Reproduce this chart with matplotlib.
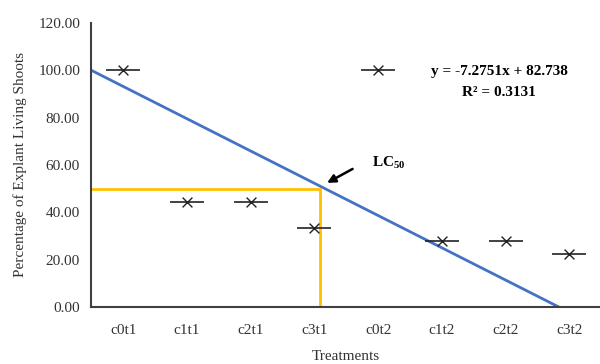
import matplotlib.pyplot as plt
import numpy as np

plt.rcParams['font.family'] = ['Liberation Serif', 'DejaVu Serif']
plt.rcParams['mathtext.fontset'] = 'custom'
plt.rcParams['mathtext.rm'] = 'Liberation Serif'
plt.rcParams['mathtext.bf'] = 'Liberation Serif:bold'

# data
treatments = ["c0t1", "c1t1", "c2t1", "c3t1", "c0t2", "c1t2", "c2t2", "c3t2"]
living = [100.0, 44.4, 44.4, 33.3, 100.0, 27.8, 27.8, 22.2]
yticks = [0, 20, 40, 60, 80, 100, 120]

# hand-drawn trend line (start / end) and LC50 guide
trend_x = [0.5, 7.83]
trend_y = [100.0, 0.0]
lc50_x = 4.09
lc50_y = 50.0

pos = np.arange(1, len(treatments) + 1)

fig = plt.figure(figsize=(6, 3.64), dpi=100)
ax = fig.add_axes([0.152, 0.157, 0.85, 0.78])

# markers: horizontal dash + x cross
ax.scatter(pos, living, marker="_", s=24**2, color="#222222", linewidths=1.2, zorder=3)
ax.scatter(pos, living, marker="x", s=50, color="#222222", linewidths=1.0, zorder=4)

ax.plot(trend_x, trend_y, color="#4472C4", lw=2, zorder=2)
ax.plot([0.5, lc50_x, lc50_x], [lc50_y, lc50_y, 0], color="#FFC000", lw=2, zorder=1)

ax.text(4.9, 60.8, r"LC$_{\mathbf{50}}$", fontsize=11, fontweight="bold", ha="left", va="center")
ax.annotate("", xy=(4.2, 52.4), xytext=(4.6, 58.3),
            arrowprops=dict(arrowstyle="-|>", color="black", lw=1.8, mutation_scale=12,
                            shrinkA=0, shrinkB=0))

ax.text(6.9, 99.3, "y = -7.2751x + 82.738", ha="center", va="center", fontsize=11, fontweight="bold")
ax.text(6.9, 90.8, "R² = 0.3131", ha="center", va="center", fontsize=11, fontweight="bold")

ax.set_xlim(0.5, 8.5)
ax.set_ylim(0, 120)
ax.set_xticks(pos)
ax.set_xticklabels(treatments)
ax.set_yticks(yticks)
ax.set_yticklabels([f"{v:.2f}" for v in yticks])
ax.tick_params(length=0, labelsize=11, colors="#333333", pad=8)
ax.tick_params(axis="x", pad=12)

for s in ["top", "right"]:
    ax.spines[s].set_visible(False)
for s in ["left", "bottom"]:
    ax.spines[s].set_color("#404040")
    ax.spines[s].set_linewidth(1.5)

ax.set_xlabel("Treatments", fontsize=11, color="#333333", labelpad=10)
ax.set_ylabel("Percentage of Explant Living Shoots", fontsize=11, color="#333333", labelpad=8)

fig.savefig("out.png", dpi=100)
